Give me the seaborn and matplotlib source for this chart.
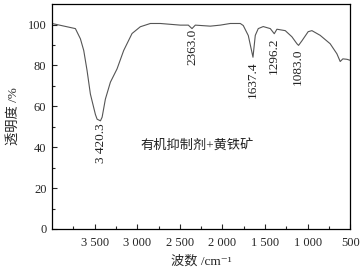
import numpy as np
import pandas as pd
import matplotlib
matplotlib.use("Agg")
import matplotlib.pyplot as plt
import seaborn as sns

# FTIR spectrum
wavenumber = [4000, 3726, 3667, 3628, 3589, 3550, 3491, 3471, 3432, 3412,
              3374, 3315, 3237, 3159, 3061, 2964, 2846, 2729, 2494, 2400,
              2357, 2318, 2142, 2025, 1908, 1790, 1755, 1696, 1641, 1614,
              1579, 1521, 1438, 1391, 1360, 1262, 1184, 1125, 1106, 1067,
              993, 949, 852, 735, 656, 617, 586, 539, 500]
transmittance = [100.5, 98.0, 93.0, 87.3, 77.5, 66.0, 56.0, 53.7, 52.9, 54.7,
                 63.5, 71.8, 78.3, 87.3, 95.6, 98.9, 100.5, 100.5, 99.7, 99.7,
                 98.0, 99.7, 99.2, 99.7, 100.5, 100.5, 99.5, 94.6, 84.0, 94.7,
                 98.0, 99.0, 98.0, 95.5, 97.7, 97.0, 94.0, 90.6, 89.8, 92.0,
                 96.5, 97.0, 94.7, 90.6, 85.7, 81.9, 83.2, 83.0, 82.5]

# peak labels: text, x position, top of text
peak_text = ["3 420.3", "2363.0", "1637.4", "1296.2", "1083.0"]
peak_x = [3420, 2353, 1638, 1391, 1110]
peak_top = [51.5, 98.0, 82.0, 93.5, 88.5]

x_ticks = [3500, 3000, 2500, 2000, 1500, 1000, 500]
x_ticklabels = ["3 500", "3 000", "2 500", "2 000", "1 500", "1 000", "500"]
y_ticks = [0, 20, 40, 60, 80, 100]

sns.set_style("ticks")
serif = ["Liberation Serif", "Noto Sans CJK SC", "DejaVu Sans"]
plt.rcParams["font.family"] = serif

df = pd.DataFrame({"wn": wavenumber, "T": transmittance})

fig = plt.figure(figsize=(3.64, 2.71), dpi=100)
ax = fig.add_axes([0.143, 0.155, 0.819, 0.830])
sns.lineplot(data=df, x="wn", y="T", ax=ax, color="#555555", linewidth=0.8)

ax.set_xlim(4000, 500)
ax.set_ylim(0, 110)
ax.set_xticks(x_ticks)
ax.set_xticklabels(x_ticklabels)
ax.set_xticks(np.arange(750, 4000, 500), minor=True)
ax.set_yticks(y_ticks)
ax.set_yticks([10, 30, 50, 70, 90], minor=True)
ax.tick_params(which="both", direction="in", labelsize=9, width=0.8)
ax.tick_params(which="major", length=3.5)
ax.tick_params(which="minor", length=2.5)
ax.tick_params(axis="x", pad=6)
ax.tick_params(axis="y", pad=4)
for s in ax.spines.values():
    s.set_linewidth(0.9)
    s.set_color("black")

for t, x, y in zip(peak_text, peak_x, peak_top):
    ax.text(x, y, t, rotation=90, ha="center", va="top", fontsize=9.5,
            color="#222222")

ax.text(2300, 40.5, "有机抑制剂+黄铁矿", ha="center", va="center",
        fontsize=9.5, color="#222222", family=serif)

ax.set_xlabel("波数 /cm⁻¹", fontsize=9.5, labelpad=4)
ax.set_ylabel("透明度 /%", fontsize=9.5, labelpad=6)

fig.savefig("out.png", dpi=100)
